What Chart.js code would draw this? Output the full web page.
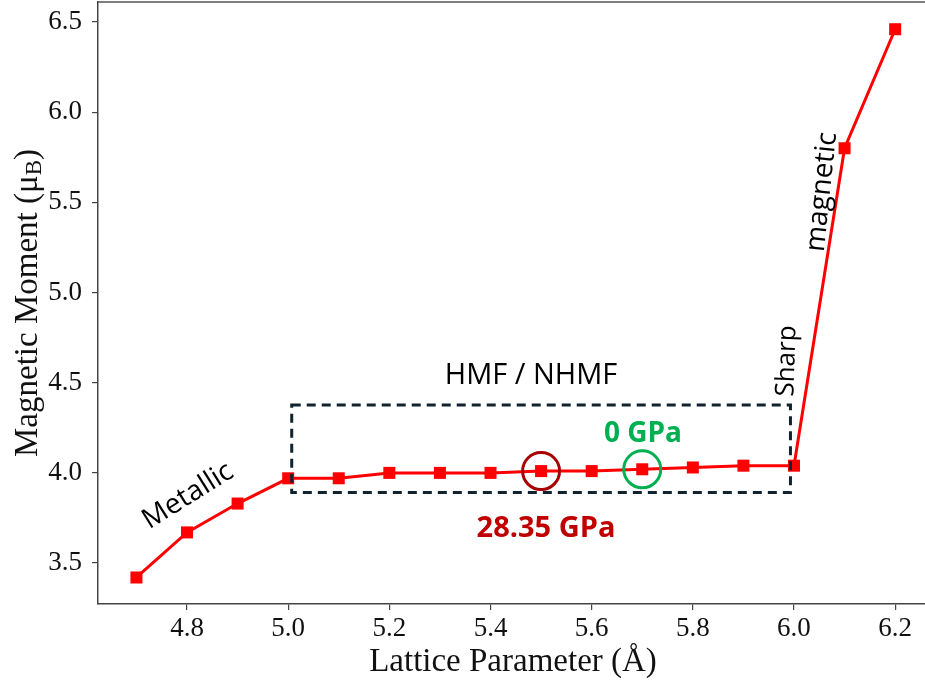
<!DOCTYPE html>
<html>
<head>
<meta charset="utf-8">
<script src="https://cdn.jsdelivr.net/npm/chart.js@4/dist/chart.umd.min.js"></script>
<style>
  html, body { margin: 0; padding: 0; background: #ffffff; }
  #wrap { width: 925px; height: 688px; }
</style>
</head>
<body>
<div id="wrap"><canvas id="c" width="925" height="688"></canvas></div>
<script>
// ---- data ----
const latticeParameter = [4.7, 4.8, 4.9, 5.0, 5.1, 5.2, 5.3, 5.4, 5.5, 5.6, 5.7, 5.8, 5.9, 6.0, 6.1, 6.2];
const magneticMoment   = [3.42, 3.67, 3.83, 3.97, 3.97, 4.00, 4.00, 4.00, 4.01, 4.01, 4.02, 4.03, 4.04, 4.04, 5.80, 6.46];
const xTickValues = [4.8, 5.0, 5.2, 5.4, 5.6, 5.8, 6.0, 6.2];
const yTickValues = [3.5, 4.0, 4.5, 5.0, 5.5, 6.0, 6.5];
const xRange = [4.624, 6.259];
const yRange = [3.273, 6.611];
// annotation anchors (data units)
const boxRange = { x0: 5.007, x1: 5.993, y0: 3.891, y1: 4.377 };
const highlightRed = { x: 5.5, y: 4.01, label: '28.35 GPa' };
const highlightGreen = { x: 5.7, y: 4.02, label: '0 GPa' };
const regionLabel = 'HMF / NHMF';
const xTitle = 'Lattice Parameter (Å)';
const yTitleMain = 'Magnetic Moment (μ';
const yTitleSub = 'B';

const annotPlugin = {
  id: 'annot',
  afterDatasetsDraw(chart) {
    const ctx = chart.ctx;
    const xs = chart.scales.x, ys = chart.scales.y;
    const ca = chart.chartArea;
    ctx.save();
    // top spine
    ctx.strokeStyle = '#555';
    ctx.lineWidth = 1.5;
    ctx.beginPath();
    ctx.moveTo(ca.left, ca.top);
    ctx.lineTo(ca.right, ca.top);
    ctx.stroke();

    // dashed box
    const bx0 = xs.getPixelForValue(boxRange.x0), bx1 = xs.getPixelForValue(boxRange.x1);
    const by0 = ys.getPixelForValue(boxRange.y1), by1 = ys.getPixelForValue(boxRange.y0);
    ctx.strokeStyle = '#10232f';
    ctx.lineWidth = 3;
    ctx.setLineDash([9, 6]);
    ctx.strokeRect(bx0, by0, bx1 - bx0, by1 - by0);
    ctx.setLineDash([]);

    // circles
    const circ = (p, color) => {
      ctx.strokeStyle = color;
      ctx.lineWidth = 3;
      ctx.beginPath();
      ctx.arc(xs.getPixelForValue(p.x), ys.getPixelForValue(p.y), 18.5, 0, Math.PI * 2);
      ctx.stroke();
    };
    circ(highlightRed, '#a80000');
    circ(highlightGreen, '#00b050');

    // text labels
    ctx.textAlign = 'center';
    ctx.textBaseline = 'middle';
    ctx.fillStyle = '#000';
    ctx.font = '29px "Open Sans"';
    ctx.fillText(regionLabel, 531, 376);

    ctx.font = 'bold 28px "Open Sans"';
    ctx.fillStyle = '#00b050';
    ctx.fillText(highlightGreen.label, 643, 434);
    ctx.font = 'bold 29px "Open Sans"';
    ctx.fillStyle = '#c00000';
    ctx.fillText(highlightRed.label, 546, 529);

    const rot = (txt, x, y, deg, font) => {
      ctx.save();
      ctx.translate(x, y);
      ctx.rotate(deg * Math.PI / 180);
      ctx.font = font;
      ctx.fillStyle = '#000';
      ctx.fillText(txt, 0, 0);
      ctx.restore();
    };
    rot('Metallic', 188, 496, -32, '28px "Open Sans"');
    rot('Sharp', 787, 361, -88, '26px "Open Sans"');
    rot('magnetic', 822, 192, -84, '28px "Open Sans"');

    // axis titles
    ctx.fillStyle = '#111';
    ctx.font = '33px "Liberation Serif"';
    ctx.textBaseline = 'middle';
    ctx.fillText(xTitle, 513, 662);

    ctx.save();
    const cy = (ca.top + ca.bottom) / 2;
    ctx.translate(28, cy);
    ctx.rotate(-Math.PI / 2);
    ctx.font = '33px "Liberation Serif"';
    const wMain = ctx.measureText(yTitleMain).width;
    ctx.font = '23px "Liberation Serif"';
    const wSub = ctx.measureText(yTitleSub).width;
    ctx.font = '33px "Liberation Serif"';
    const wClose = ctx.measureText(')').width;
    const total = wMain + wSub + wClose;
    let sx = -total / 2;
    ctx.textAlign = 'left';
    ctx.fillText(yTitleMain, sx, 0);
    sx += wMain;
    ctx.font = '23px "Liberation Serif"';
    ctx.fillText(yTitleSub, sx, 7);
    sx += wSub;
    ctx.font = '33px "Liberation Serif"';
    ctx.fillText(')', sx, 0);
    ctx.restore();

    ctx.restore();
  }
};

const points = latticeParameter.map((x, i) => ({ x: x, y: magneticMoment[i] }));
const zeroPad = (s) => { s.paddingTop = 0; s.paddingBottom = 0; s.paddingLeft = 0; s.paddingRight = 0; };

new Chart(document.getElementById('c'), {
  type: 'line',
  data: {
    datasets: [{
      data: points,
      borderColor: '#ff0000',
      backgroundColor: '#ff0000',
      borderWidth: 3,
      pointStyle: 'rect',
      pointRadius: 8.5,
      pointBorderWidth: 0,
      pointBackgroundColor: '#ff0000',
      tension: 0,
      clip: false
    }]
  },
  options: {
    responsive: false,
    animation: false,
    devicePixelRatio: 1,
    layout: { autoPadding: false, padding: { top: 2, right: 0, left: 0, bottom: 0 } },
    plugins: { legend: { display: false }, tooltip: { enabled: false } },
    scales: {
      x: {
        type: 'linear',
        min: xRange[0], max: xRange[1],
        afterBuildTicks: (s) => { s.ticks = xTickValues.map(v => ({ value: v })); },
        afterFit: (s) => { s.height = 84; zeroPad(s); },
        ticks: {
          font: { family: '"Liberation Serif"', size: 27 },
          color: '#111',
          padding: 3,
          maxRotation: 0,
          callback: (v) => Number(v).toFixed(1)
        },
        grid: { display: true, drawOnChartArea: false, drawTicks: true, tickLength: 6, color: '#444', lineWidth: 1.2 },
        border: { display: true, color: '#444', width: 1.5 }
      },
      y: {
        type: 'linear',
        min: yRange[0], max: yRange[1],
        afterBuildTicks: (s) => { s.ticks = yTickValues.map(v => ({ value: v })); },
        afterFit: (s) => { s.width = 98; zeroPad(s); },
        ticks: {
          font: { family: '"Liberation Serif"', size: 27 },
          color: '#111',
          padding: 10,
          callback: (v) => Number(v).toFixed(1)
        },
        grid: { display: true, drawOnChartArea: false, drawTicks: true, tickLength: 6, color: '#444', lineWidth: 1.2 },
        border: { display: true, color: '#444', width: 1.5 }
      }
    }
  },
  plugins: [annotPlugin]
});
</script>
</body>
</html>
